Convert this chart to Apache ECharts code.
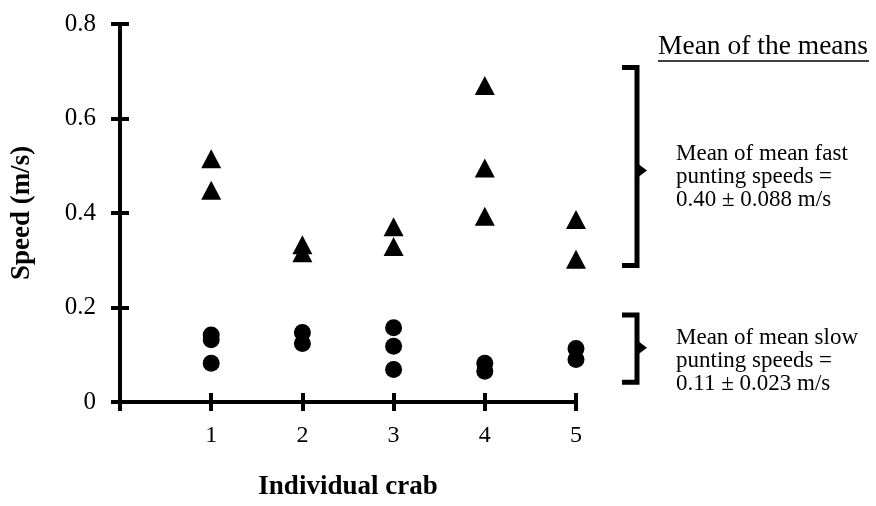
<!DOCTYPE html>
<html>
<head>
<meta charset="utf-8">
<script src="https://cdn.jsdelivr.net/npm/echarts@6/dist/echarts.min.js"></script>
<style>
html,body{margin:0;padding:0;background:#fff;}
#chart{width:876px;height:506px;}
</style>
</head>
<body>
<div id="chart"></div>
<script>
// ---- data ----
const crabs = [1, 2, 3, 4, 5];
const fastSpeeds = [[0.515, 0.448], [0.333, 0.316], [0.371, 0.329], [0.670, 0.495, 0.393], [0.386, 0.302]];
const slowSpeeds = [[0.142, 0.132, 0.082], [0.147, 0.124], [0.157, 0.118, 0.069], [0.082, 0.065], [0.113, 0.090]];
const yTicks = [0, 0.2, 0.4, 0.6, 0.8];
const xTicks = [1, 2, 3, 4, 5];
const fastBracket = [0.289, 0.49, 0.708];   // bottom, tip, top
const slowBracket = [0.042, 0.115, 0.184];
const titleText = 'Mean of the means';
const fastText = 'Mean of mean fast\npunting speeds =\n0.40 \u00b1 0.088 m/s';
const slowText = 'Mean of mean slow\npunting speeds =\n0.11 \u00b1 0.023 m/s';

const FONT = '"Liberation Serif", "DejaVu Serif", serif';

function pairs(arr) {
  const out = [];
  arr.forEach((vals, i) => vals.forEach(v => out.push([crabs[i], v])));
  return out;
}

const chart = echarts.init(document.getElementById('chart'), null, {renderer: 'canvas'});

const axisCommon = {
  type: 'value',
  splitLine: {show: false}
};

chart.setOption({
  animation: false,
  backgroundColor: '#fff',
  grid: {left: 120, right: 300, top: 24, bottom: 100, containLabel: false},
  xAxis: [
    Object.assign({}, axisCommon, {
      min: 0, max: 5, interval: 1,
      name: 'Individual crab', nameLocation: 'middle', nameGap: 72,
      nameTextStyle: {fontFamily: FONT, fontWeight: 'bold', fontSize: 27, color: '#000'},
      axisLine: {show: true, onZero: false, lineStyle: {color: '#000', width: 4}},
      axisTick: {show: true, inside: false, length: 9, lineStyle: {color: '#000', width: 4}},
      axisLabel: {show: true, margin: 22, fontFamily: FONT, fontSize: 24, color: '#000',
        formatter: v => (xTicks.indexOf(v) >= 0 ? String(v) : '')}
    }),
    Object.assign({}, axisCommon, {
      min: 0, max: 5, interval: 1, position: 'bottom',
      axisLine: {show: false, onZero: false},
      axisTick: {show: true, inside: true, length: 9, lineStyle: {color: '#000', width: 4}},
      axisLabel: {show: false}
    })
  ],
  yAxis: [
    Object.assign({}, axisCommon, {
      min: 0, max: 0.8, interval: 0.2,
      name: 'Speed (m/s)', nameLocation: 'middle', nameGap: 84,
      nameTextStyle: {fontFamily: FONT, fontWeight: 'bold', fontSize: 27, color: '#000'},
      axisLine: {show: true, onZero: false, lineStyle: {color: '#000', width: 4}},
      axisTick: {show: true, inside: false, length: 9, lineStyle: {color: '#000', width: 4}},
      axisLabel: {show: true, margin: 24, fontFamily: FONT, fontSize: 25, color: '#000',
        formatter: v => {
          const t = yTicks.find(k => Math.abs(k - v) < 1e-9);
          if (t === undefined) return '';
          return t === 0 ? '0' : t.toFixed(1);
        }}
    }),
    Object.assign({}, axisCommon, {
      min: 0, max: 0.8, interval: 0.2, position: 'left',
      axisLine: {show: false, onZero: false},
      axisTick: {show: true, inside: true, length: 9, lineStyle: {color: '#000', width: 4}},
      axisLabel: {show: false}
    })
  ],
  series: [
    {
      name: 'fast', type: 'scatter', xAxisIndex: 0, yAxisIndex: 0,
      symbol: 'triangle', symbolSize: [20, 19],
      itemStyle: {color: '#000', opacity: 1},
      data: pairs(fastSpeeds)
    },
    {
      name: 'slow', type: 'scatter', xAxisIndex: 0, yAxisIndex: 0,
      symbol: 'circle', symbolSize: 17,
      itemStyle: {color: '#000', opacity: 1},
      data: pairs(slowSpeeds)
    }
  ]
});

function bracket(vals, x) {
  const yb = chart.convertToPixel({yAxisIndex: 0}, vals[0]);
  const ym = chart.convertToPixel({yAxisIndex: 0}, vals[1]);
  const yt = chart.convertToPixel({yAxisIndex: 0}, vals[2]);
  return [
    {type: 'polyline', shape: {points: [[x - 15, yt], [x, yt], [x, yb], [x - 15, yb]]},
      style: {stroke: '#000', lineWidth: 5, fill: null, lineJoin: 'miter'}},
    {type: 'polygon', shape: {points: [[x + 2, ym - 6], [x + 10, ym], [x + 2, ym + 6]]},
      style: {fill: '#000'}}
  ];
}

const graphics = [].concat(
  bracket(fastBracket, 637),
  bracket(slowBracket, 637),
  [
    {type: 'text', x: 658, y: 47,
      style: {text: titleText, font: '27.5px ' + FONT, fill: '#000', verticalAlign: 'middle', align: 'left'}},
    {type: 'line', shape: {x1: 658, y1: 61, x2: 869, y2: 61}, style: {stroke: '#000', lineWidth: 1.5}},
    {type: 'text', x: 676, y: 177,
      style: {text: fastText, font: '23px ' + FONT, fill: '#000', lineHeight: 23, verticalAlign: 'middle', align: 'left'}},
    {type: 'text', x: 676, y: 361,
      style: {text: slowText, font: '23px ' + FONT, fill: '#000', lineHeight: 23, verticalAlign: 'middle', align: 'left'}}
  ]
);
chart.setOption({graphic: graphics});
</script>
</body>
</html>
